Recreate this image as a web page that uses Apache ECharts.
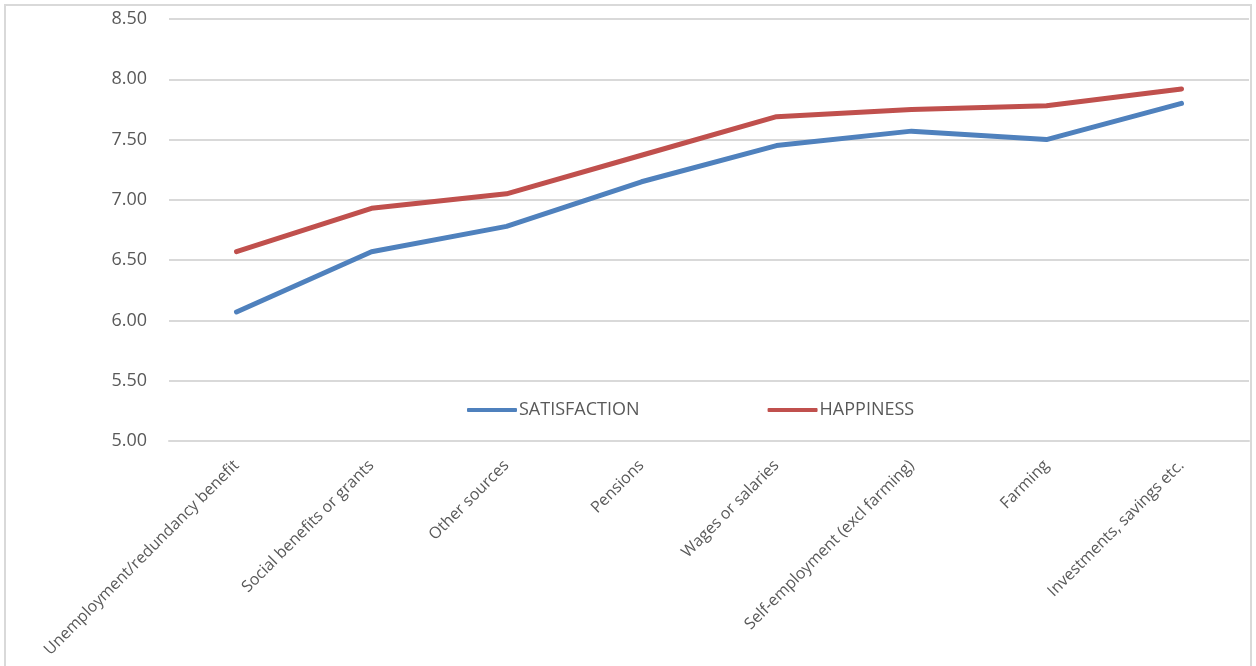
<!DOCTYPE html>
<html>
<head>
<meta charset="utf-8">
<script src="https://cdn.jsdelivr.net/npm/echarts@6/dist/echarts.min.js"></script>
<style>
  html, body { margin: 0; padding: 0; background: #fff; }
  #chart { width: 1256px; height: 666px; }
</style>
</head>
<body>
<div id="chart"></div>
<script>
// Main source of income
const categories = [
  'Unemployment/redundancy benefit',
  'Social benefits or grants',
  'Other sources',
  'Pensions',
  'Wages or salaries',
  'Self-employment (excl farming)',
  'Farming',
  'Investments, savings etc.'
];
const satisfaction = [6.07, 6.57, 6.78, 7.15, 7.45, 7.57, 7.50, 7.80];
const happiness = [6.57, 6.93, 7.05, 7.37, 7.69, 7.75, 7.78, 7.92];

const FONT = '"Open Sans", sans-serif';
const TEXT = '#595959';
const BLUE = '#4f81bd';
const RED = '#c0504d';

const chart = echarts.init(document.getElementById('chart'));
chart.setOption({
  animation: false,
  textStyle: { fontFamily: FONT },
  graphic: [{
    type: 'rect',
    silent: true,
    shape: { x: 5, y: 5, width: 1246, height: 680 },
    style: { fill: 'none', stroke: '#d9d9d9', lineWidth: 2 }
  }],
  grid: { left: 169, right: 7, top: 19, bottom: 225, containLabel: false },
  legend: {
    left: 462,
    top: 396,
    itemWidth: 50,
    itemHeight: 4,
    itemGap: 128,
    icon: 'roundRect',
    textStyle: { color: TEXT, fontSize: 18, fontFamily: FONT, padding: [0, 0, 0, -3] },
    data: ['SATISFACTION', 'HAPPINESS']
  },
  xAxis: {
    type: 'category',
    data: categories,
    boundaryGap: true,
    axisLine: { show: true, lineStyle: { color: '#d9d9d9', width: 2 } },
    axisTick: { show: false },
    axisLabel: { rotate: 45, interval: 0, color: TEXT, fontSize: 16, margin: 22, fontFamily: FONT }
  },
  yAxis: {
    type: 'value',
    min: 5,
    max: 8.5,
    interval: 0.5,
    axisLine: { show: false },
    axisTick: { show: false },
    splitLine: { lineStyle: { color: '#d9d9d9', width: 2 } },
    axisLabel: {
      color: TEXT, fontSize: 18, margin: 22, fontFamily: FONT,
      formatter: v => v.toFixed(2)
    }
  },
  series: [
    {
      name: 'SATISFACTION',
      type: 'line',
      data: satisfaction,
      showSymbol: false,
      symbol: 'none',
      itemStyle: { color: BLUE },
      lineStyle: { color: BLUE, width: 5, cap: 'round', join: 'round' }
    },
    {
      name: 'HAPPINESS',
      type: 'line',
      data: happiness,
      showSymbol: false,
      symbol: 'none',
      itemStyle: { color: RED },
      lineStyle: { color: RED, width: 5, cap: 'round', join: 'round' }
    }
  ]
});
</script>
</body>
</html>
